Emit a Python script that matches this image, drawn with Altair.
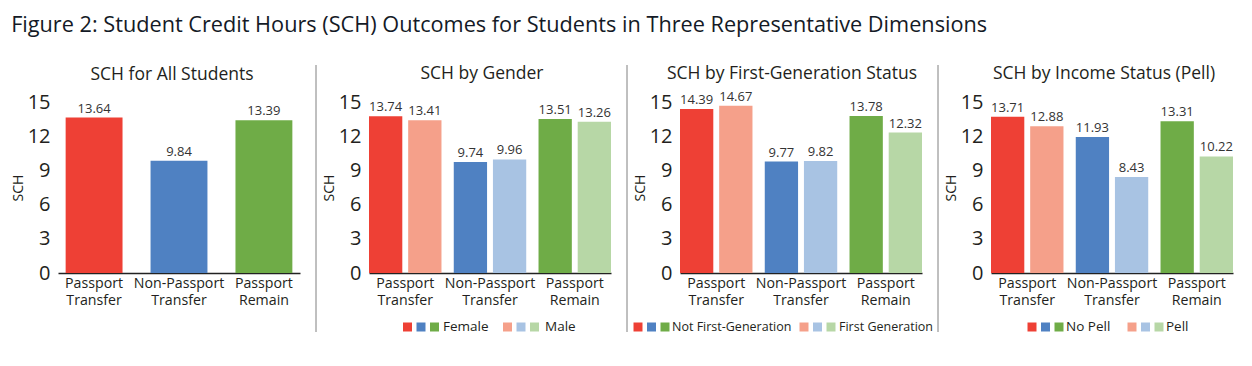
import altair as alt
import pandas as pd

categories = ["Passport Transfer", "Non-Passport Transfer", "Passport Remain"]
all_values = [13.64, 9.84, 13.39]

gender_groups = ["Female", "Male"]
gender_female = [13.74, 9.74, 13.51]
gender_male = [13.41, 9.96, 13.26]

firstgen_groups = ["Not First-Generation", "First Generation"]
firstgen_not = [14.39, 9.77, 13.78]
firstgen_first = [14.67, 9.82, 12.32]

pell_groups = ["No Pell", "Pell"]
pell_no = [13.71, 11.93, 13.31]
pell_yes = [12.88, 8.43, 10.22]

y_ticks = [0, 3, 6, 9, 12, 15]

dark_colors = ["#EE4035", "#4F81C2", "#6FAC47"]
light_colors = ["#F5A08A", "#A8C3E3", "#B7D7A6"]

FONT = "Open Sans"
TXT = "#231f20"
W, H = 242, 171
dummy = pd.DataFrame({"a": [0]})


def y_axis():
    return alt.Axis(values=y_ticks, domain=False, ticks=False, grid=False,
                    labelFontSize=20, labelColor=TXT, labelFont=FONT, labelPadding=8,
                    title="SCH", titleFontSize=14, titleFont=FONT, titleFontWeight="normal",
                    titleColor=TXT, titlePadding=2)


def x_axis():
    return alt.Axis(title=None, labelAngle=0, domainColor="#222222", domainWidth=1.3,
                    ticks=False, labelFontSize=14.2, labelFont=FONT, labelColor=TXT,
                    labelPadding=3, labelLineHeight=17, labelLimit=0,
                    labelExpr="split(datum.label, ' ')")


def y_enc():
    return alt.Y("value:Q", scale=alt.Scale(domain=[0, 15], nice=False), axis=y_axis())


def panel_title(text, dx):
    return alt.TitleParams(text, fontSize=17.5, font=FONT, fontWeight="normal", color=TXT,
                           anchor="middle", frame="group", dx=dx, offset=-18)


def separator(visible=True):
    return alt.Chart(dummy).mark_rule(color="#808080", strokeWidth=1,
                                      opacity=1 if visible else 0).encode(
        x=alt.value(-53 if visible else 0), y=alt.value(-37), y2=alt.value(230))


def legend_layers(sq_starts, text_starts, labels, fsize):
    layers = []
    for g, (sx, tx, lab) in enumerate(zip(sq_starts, text_starts, labels)):
        cols = dark_colors if g == 0 else light_colors
        for i, c in enumerate(cols):
            layers.append(alt.Chart(dummy).mark_square(color=c, size=81, opacity=1).encode(
                x=alt.value(sx + 13.5 * i), y=alt.value(225)))
        layers.append(alt.Chart(dummy).mark_text(text=lab, align="left", baseline="middle",
                                                 fontSize=fsize, font=FONT, color=TXT).encode(
            x=alt.value(tx), y=alt.value(225)))
    return layers


# Panel 1
df1 = pd.DataFrame({"category": categories, "value": all_values})
base1 = alt.Chart(df1).encode(
    x=alt.X("category:N", sort=categories,
            scale=alt.Scale(paddingInner=0.33, paddingOuter=0.09), axis=x_axis()),
    y=y_enc(),
)
bars1 = base1.mark_bar().encode(
    color=alt.Color("category:N", scale=alt.Scale(domain=categories, range=dark_colors), legend=None))
text1 = base1.mark_text(baseline="alphabetic", dy=-5, fontSize=13, font=FONT, color="#333333").encode(
    text=alt.Text("value:Q", format=".2f"))
p1 = alt.layer(separator(False), bars1, text1).properties(
    width=W, height=H, title=panel_title("SCH for All Students", -7))


def grouped_panel(title, groups, v1, v2, sq_starts, text_starts, dx, fsize):
    rows = []
    for i, c in enumerate(categories):
        rows.append({"category": c, "group": groups[0], "value": v1[i], "key": c + "|" + groups[0]})
        rows.append({"category": c, "group": groups[1], "value": v2[i], "key": c + "|" + groups[1]})
    df = pd.DataFrame(rows)
    keys = []
    rng = []
    for i, c in enumerate(categories):
        keys += [c + "|" + groups[0], c + "|" + groups[1]]
        rng += [dark_colors[i], light_colors[i]]
    base = alt.Chart(df).encode(
        x=alt.X("category:N", sort=categories,
                scale=alt.Scale(paddingInner=0.145, paddingOuter=0.0), axis=x_axis()),
        xOffset=alt.XOffset("group:N", sort=groups,
                            scale=alt.Scale(paddingInner=0.15, paddingOuter=0.0)),
        y=y_enc(),
    )
    bars = base.mark_bar().encode(
        color=alt.Color("key:N", scale=alt.Scale(domain=keys, range=rng), legend=None))
    text = base.mark_text(baseline="alphabetic", dy=-5, fontSize=13, font=FONT, color="#333333").encode(
        text=alt.Text("value:Q", format=".2f"))
    layers = [separator(), bars, text] + legend_layers(sq_starts, text_starts, groups, fsize)
    return alt.layer(*layers).properties(width=W, height=H, title=panel_title(title, dx))


p2 = grouped_panel("SCH by Gender", gender_groups, gender_female, gender_male,
                   [38.5, 138.5], [74, 176], -8, 13.5)
p3 = grouped_panel("SCH by First-Generation Status", firstgen_groups, firstgen_not, firstgen_first,
                   [-42, 124], [-8, 159], -9, 12.5)
p4 = grouped_panel("SCH by Income Status (Pell)", pell_groups, pell_no, pell_yes,
                   [41, 141], [75, 175], -8, 13.5)

chart = alt.hconcat(p1, p2, p3, p4, spacing=69, bounds="flush").resolve_scale(
    x="independent", y="independent", color="independent", xOffset="independent"
).properties(
    title=alt.TitleParams(
        "Figure 2: Student Credit Hours (SCH) Outcomes for Students in Three Representative Dimensions",
        anchor="start", frame="bounds", fontSize=21.7, font=FONT, fontWeight="normal",
        color="#141a26", offset=28, dx=0),
    padding={"left": 3, "top": 6, "right": 5, "bottom": 5},
).configure_view(stroke=None)

chart.save("out.html", embed_options={"renderer": "svg", "actions": False})
